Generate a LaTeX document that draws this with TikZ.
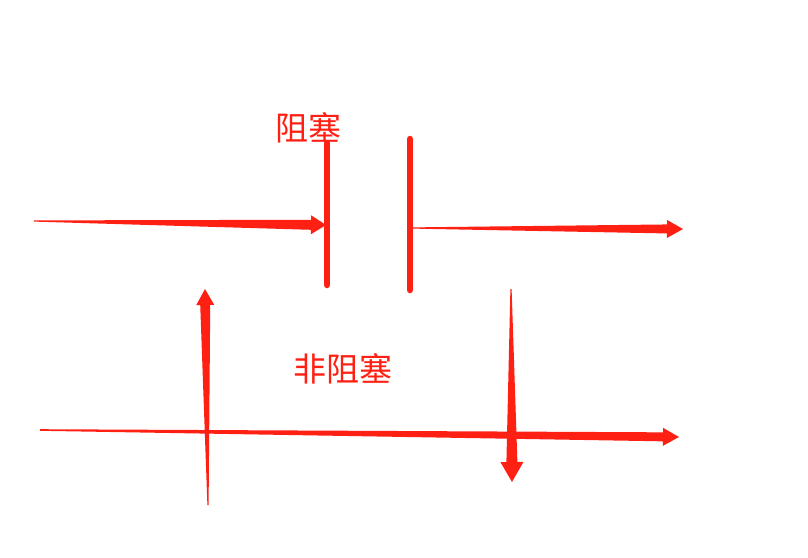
\documentclass[tikz,border=0pt]{standalone}
\usepackage{fontspec}
\newfontfamily\cjk{Noto Sans CJK SC}
\usetikzlibrary{calc}
\definecolor{redc}{RGB}{255,32,20}
\newcommand\taparrow[6]{%
  \coordinate (tmpH) at ($(#2)!#6!(#1)$);
  \fill[redc] ($(#1)!#3!90:(#2)$) -- ($(tmpH)!#4!90:(#2)$) -- ($(tmpH)!#5!90:(#2)$) -- (#2)
    -- ($(tmpH)!#5!-90:(#2)$) -- ($(tmpH)!#4!-90:(#2)$) -- ($(#1)!#3!-90:(#2)$) -- cycle;}
\begin{document}
\begin{tikzpicture}[x=1pt,y=-1pt,
  plate/.style={draw=redc,line width=6.5pt,line cap=round},
  label/.style={text=redc,inner sep=0pt,font=\cjk\fontsize{33}{33}\selectfont}]
\useasboundingbox (0,0) rectangle (808,557);
% coordinates
\coordinate (a1s) at (34,221);  \coordinate (a1e) at (326,225);
\coordinate (a2s) at (412,228); \coordinate (a2e) at (683,229);
\coordinate (a3s) at (208,505); \coordinate (a3e) at (205,289);
\coordinate (a4s) at (40,430);  \coordinate (a4e) at (679,437);
\coordinate (a5s) at (511,289); \coordinate (a5e) at (512,482);
\coordinate (p1t) at (327,143); \coordinate (p1b) at (327,285);
\coordinate (p2t) at (410,139); \coordinate (p2b) at (410,290);
% plates
\draw[plate] (p1t) -- (p1b);
\draw[plate] (p2t) -- (p2b);
% arrows
\taparrow{a1s}{a1e}{0.6pt}{5pt}{9.5pt}{15pt}
\taparrow{a2s}{a2e}{0.6pt}{4.5pt}{9pt}{16pt}
\taparrow{a3s}{a3e}{0.6pt}{5pt}{9pt}{16pt}
\taparrow{a4s}{a4e}{0.8pt}{4.5pt}{9pt}{16pt}
\taparrow{a5s}{a5e}{0.6pt}{5.5pt}{11.5pt}{20pt}
% labels
\node[label] (t1) at (308,128) {阻塞};
\node[label] (t2) at (343,368.5) {非阻塞};
\end{tikzpicture}
\end{document}
